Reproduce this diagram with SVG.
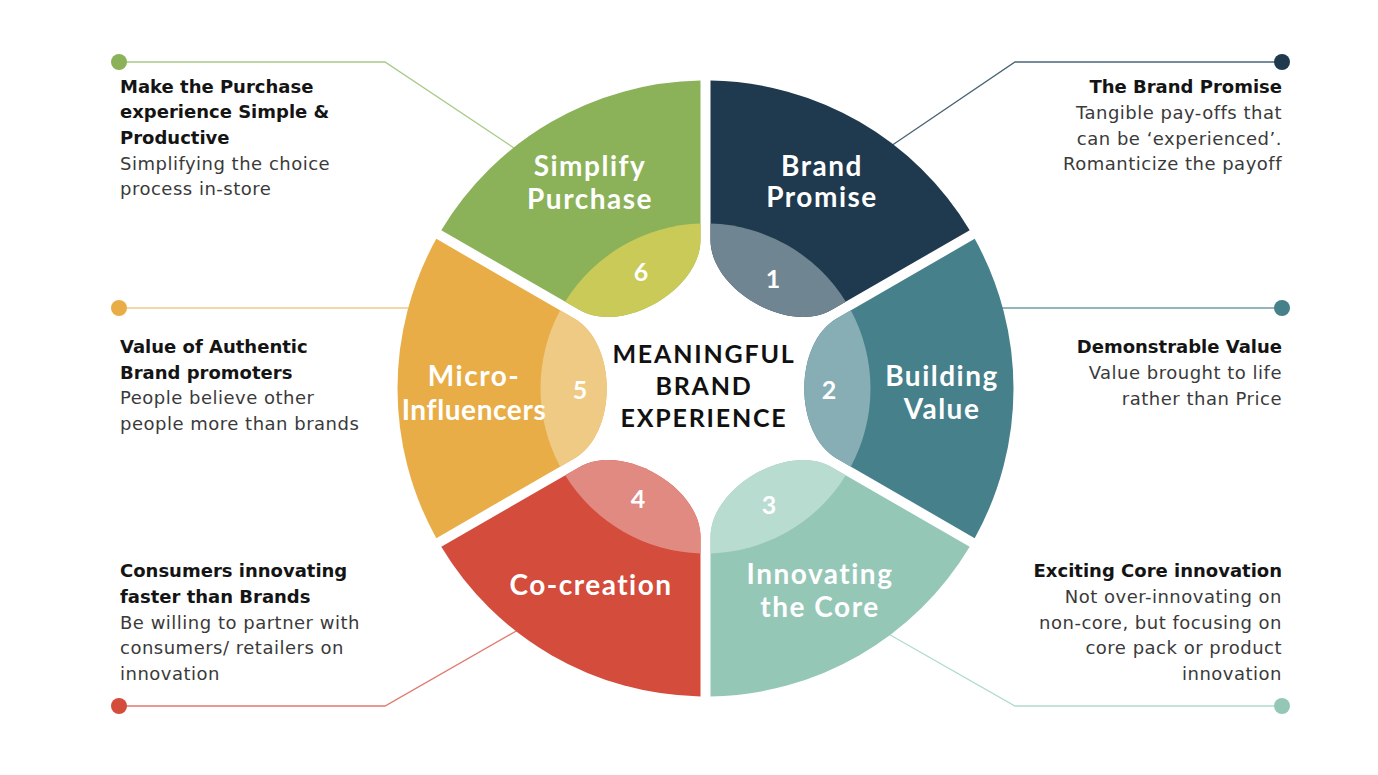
<svg xmlns="http://www.w3.org/2000/svg" width="1378" height="775" viewBox="0 0 1378 775">
<style>
.h{font-family:"DejaVu Sans",Lato,sans-serif;font-weight:700;font-size:18px;fill:#141414}
.b{font-family:"DejaVu Sans",Lato,sans-serif;font-weight:400;font-size:18px;fill:#3a3a3a;letter-spacing:0.5px}
.r{text-anchor:end}
.lbl{font-family:Lato,"Noto Sans",sans-serif;font-weight:700;font-size:28px;fill:#fff;text-anchor:middle;letter-spacing:1.5px}
.tight{letter-spacing:0.6px}
.num{font-family:Lato,"Noto Sans",sans-serif;font-weight:700;font-size:25px;fill:#fff;text-anchor:middle}
.ctr{font-family:Lato,"Noto Sans",sans-serif;font-weight:700;font-size:25px;fill:#111;text-anchor:middle;letter-spacing:1.8px}
.ln{fill:none;stroke-width:1.3}
</style>
<defs>
<path id="seg" d="M131.24,-70 L269.2,-149.65 A308,308 0 0 1 269.2,149.65 L131.24,70 C87.95,45 87.95,-45 131.24,-70 Z"/>
<path id="segL" d="M131.24,-70 L145.33,-78.13 A165,165 0 0 1 145.33,78.13 L131.24,70 C87.95,45 87.95,-45 131.24,-70 Z"/>
</defs>
<rect width="1378" height="775" fill="#fff"/>
<g id="connectors">
<polyline class="ln" stroke="#a9c98a" points="119,62 385,62 520,152"/>
<circle cx="119" cy="62" r="8" fill="#8bb258"/>
<polyline class="ln" stroke="#f0c98a" points="119,308 420,308"/>
<circle cx="119" cy="308" r="8" fill="#e9ad47"/>
<polyline class="ln" stroke="#e07a6e" points="119,706 385,706 525,626"/>
<circle cx="119" cy="706" r="8" fill="#d44c3b"/>
<polyline class="ln" stroke="#4a6475" points="1282,62 1015,62 888,148"/>
<circle cx="1282" cy="62" r="8" fill="#1f3a4e"/>
<polyline class="ln" stroke="#6f9ea6" points="1282,308 995,308"/>
<circle cx="1282" cy="308" r="8" fill="#45808b"/>
<polyline class="ln" stroke="#b0dccf" points="1282,706 1015,706 885,632"/>
<circle cx="1282" cy="706" r="8" fill="#95c7b7"/>
</g>
<g id="seg1">
<g transform="translate(705.5,388.5) rotate(-60)"><use href="#seg" fill="#1f3a4e"/><use href="#segL" fill="#6f8592"/></g>
<text class="lbl" x="822" y="176">Brand</text><text class="lbl" x="822" y="207">Promise</text>
<text class="num" x="773" y="288">1</text>
</g>
<g id="seg2">
<g transform="translate(705.5,388.5)"><use href="#seg" fill="#45808b"/><use href="#segL" fill="#87adb5"/></g>
<text class="lbl" x="942" y="386">Building</text><text class="lbl" x="942" y="419">Value</text>
<text class="num" x="829" y="399">2</text>
</g>
<g id="seg3">
<g transform="translate(705.5,388.5) rotate(60)"><use href="#seg" fill="#95c7b7"/><use href="#segL" fill="#b9dcd1"/></g>
<text class="lbl" x="820" y="584">Innovating</text><text class="lbl" x="820" y="617">the Core</text>
<text class="num" x="769" y="514">3</text>
</g>
<g id="seg4">
<g transform="translate(705.5,388.5) rotate(120)"><use href="#seg" fill="#d44c3b"/><use href="#segL" fill="#e08a82"/></g>
<text class="lbl" x="591" y="595">Co-creation</text>
<text class="num" x="638" y="508">4</text>
</g>
<g id="seg5">
<g transform="translate(705.5,388.5) rotate(180)"><use href="#seg" fill="#e9ad47"/><use href="#segL" fill="#efca85"/></g>
<text class="lbl" x="474" y="386">Micro-</text><text class="lbl tight" x="474" y="420">Influencers</text>
<text class="num" x="580" y="399">5</text>
</g>
<g id="seg6">
<g transform="translate(705.5,388.5) rotate(-120)"><use href="#seg" fill="#8bb258"/><use href="#segL" fill="#c9ca57"/></g>
<text class="lbl" x="590" y="176">Simplify</text><text class="lbl" x="590" y="209">Purchase</text>
<text class="num" x="641" y="281">6</text>
</g>
<g id="center">
<text class="ctr" x="704" y="363">MEANINGFUL</text>
<text class="ctr" x="704" y="395">BRAND</text>
<text class="ctr" x="704" y="427">EXPERIENCE</text>
</g>
<g id="note6">
<text class="h" x="120" y="93">Make the Purchase</text>
<text class="h" x="120" y="118">experience Simple &amp;</text>
<text class="h" x="120" y="144">Productive</text>
<text class="b" x="120" y="170">Simplifying the choice</text>
<text class="b" x="120" y="195">process in-store</text>
</g>
<g id="note5">
<text class="h" x="120" y="353">Value of Authentic</text>
<text class="h" x="120" y="379">Brand promoters</text>
<text class="b" x="120" y="404">People believe other</text>
<text class="b" x="120" y="430">people more than brands</text>
</g>
<g id="note4">
<text class="h" x="120" y="577">Consumers innovating</text>
<text class="h" x="120" y="603">faster than Brands</text>
<text class="b" x="120" y="629">Be willing to partner with</text>
<text class="b" x="120" y="654">consumers/ retailers on</text>
<text class="b" x="120" y="680">innovation</text>
</g>
<g id="note1">
<text class="h r" x="1282" y="93">The Brand Promise</text>
<text class="b r" x="1282" y="119">Tangible pay-offs that</text>
<text class="b r" x="1282" y="145">can be ‘experienced’.</text>
<text class="b r" x="1282" y="170">Romanticize the payoff</text>
</g>
<g id="note2">
<text class="h r" x="1282" y="353">Demonstrable Value</text>
<text class="b r" x="1282" y="379">Value brought to life</text>
<text class="b r" x="1282" y="405">rather than Price</text>
</g>
<g id="note3">
<text class="h r" x="1282" y="577">Exciting Core innovation</text>
<text class="b r" x="1282" y="603">Not over-innovating on</text>
<text class="b r" x="1282" y="629">non-core, but focusing on</text>
<text class="b r" x="1282" y="654">core pack or product</text>
<text class="b r" x="1282" y="680">innovation</text>
</g>
</svg>
